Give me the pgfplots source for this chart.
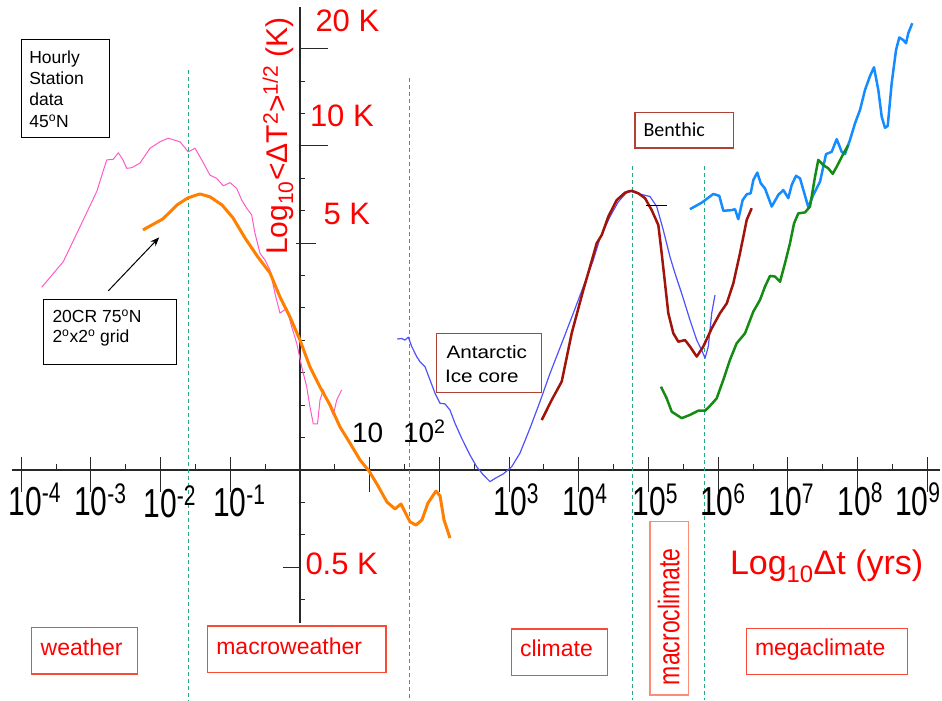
\documentclass[border=0pt]{standalone}
\usepackage{pgfplots}
\pgfplotsset{compat=1.18}
\usepackage{fontspec}
\setmainfont{Liberation Sans}
\newfontfamily\calibri{Carlito}
\usepackage{graphicx}
\usetikzlibrary{arrows.meta}
\definecolor{pinkc}{RGB}{255,90,200}
\definecolor{orangec}{RGB}{255,128,0}
\definecolor{bluec}{RGB}{80,80,255}
\definecolor{brownc}{RGB}{160,20,10}
\definecolor{skyc}{RGB}{20,140,255}
\definecolor{greenc}{RGB}{20,140,20}
\definecolor{dashc}{RGB}{40,170,120}
\definecolor{redt}{RGB}{255,0,0}
\definecolor{boxr}{RGB}{245,75,55}
\definecolor{boxl}{RGB}{250,140,120}
\definecolor{boxb}{RGB}{175,65,55}
\definecolor{axc}{RGB}{40,40,40}
\newcommand{\fs}[1]{\fontsize{#1}{#1}\selectfont}
\newcommand{\tl}[1]{\scalebox{1}[1.35]{\fs{30}10\textsuperscript{#1}}}
\begin{document}
\begin{tikzpicture}
\begin{axis}[name=ax, x=69.7pt, y=324pt, xmin=-4.304, xmax=9.211, ymin=-0.7099, ymax=1.4506, hide axis]
% axis lines and ticks
\draw[axc, line width=1.3pt] (axis cs:-4.136,0) -- (axis cs:9.182,0);
\draw[axc, line width=1.3pt] (axis cs:0,1.430) -- (axis cs:0,-0.473);
\pgfplotsinvokeforeach{-4,-3,-2,-1,1,2,3,4,5,6,7,8,9}{
  \draw[axc, line width=1pt] ([yshift=12.7pt]axis cs:#1,0) -- ([yshift=-22pt]axis cs:#1,0);}
\pgfplotsinvokeforeach{-3.5,-2.5,-1.5,-0.5,0.5,1.5,2.5,3.5,4.5,5.5,6.5,7.5,8.5}{
  \draw[axc, line width=1pt] (axis cs:#1,0) -- ([yshift=6pt]axis cs:#1,0);}
\pgfplotsinvokeforeach{-0.4,-0.2,-0.1,0.1,0.2,0.3,0.4,0.5,0.6,0.8,0.9,1.1,1.2}{
  \draw[axc, line width=1pt] (axis cs:0,#1) -- ([xshift=5pt]axis cs:0,#1);}
\draw[axc, line width=1pt] (axis cs:0,1.301) -- ([xshift=28pt]axis cs:0,1.301);
\draw[axc, line width=1pt] (axis cs:0,1.0) -- ([xshift=28pt]axis cs:0,1.0);
\draw[axc, line width=1pt] ([xshift=-4pt]axis cs:0,0.699) -- ([xshift=16pt]axis cs:0,0.699);
\draw[axc, line width=1pt] ([xshift=-17pt]axis cs:0,-0.301) -- (axis cs:0,-0.301);
% regime boundaries
\draw[dashc, line width=1pt, dash pattern=on 4pt off 3pt] (axis cs:-1.597,1.235) -- (axis cs:-1.597,-0.710);
\draw[dashc, line width=1pt, dash pattern=on 4pt off 3pt] (axis cs:1.568,1.210) -- (axis cs:1.568,-0.710);
\draw[dashc, line width=1pt, dash pattern=on 4pt off 3pt] (axis cs:4.768,0.939) -- (axis cs:4.768,-0.710);
\draw[dashc, line width=1pt, dash pattern=on 4pt off 3pt] (axis cs:5.800,0.939) -- (axis cs:5.800,-0.710);
% hourly station data
\addplot[pinkc, line width=1pt, line join=round] coordinates {
(-3.706,0.564) (-3.396,0.643) (-3.109,0.772) (-2.917,0.859) (-2.773,0.957) (-2.679,0.959) (-2.607,0.979) (-2.544,0.959) (-2.486,0.931) (-2.415,0.933) (-2.296,0.947) (-2.152,0.993) (-2.009,1.013) (-1.890,1.024) (-1.722,1.013) (-1.603,0.982) (-1.506,0.993) (-1.410,0.957) (-1.291,0.910) (-1.195,0.900) (-1.100,0.877) (-1.004,0.887) (-0.908,0.869) (-0.836,0.833) (-0.765,0.808) (-0.693,0.787) (-0.646,0.731) (-0.574,0.669) (-0.502,0.648) (-0.430,0.617) (-0.359,0.545) (-0.287,0.484) (-0.191,0.499) (-0.119,0.442) (-0.047,0.391) (0.024,0.319) (0.096,0.257) (0.143,0.195) (0.191,0.142) (0.251,0.142) (0.287,0.216) (0.334,0.247) (0.406,0.206) (0.478,0.170) (0.527,0.216) (0.598,0.247)};
% 20CR
\addplot[orangec, line width=3pt, line join=round] coordinates {
(-2.253,0.741) (-1.966,0.775) (-1.765,0.818) (-1.607,0.840) (-1.435,0.852) (-1.291,0.843) (-1.119,0.818) (-0.961,0.778) (-0.789,0.716) (-0.603,0.657) (-0.430,0.608) (-0.287,0.534) (-0.143,0.472) (0,0.401) (0.143,0.318) (0.287,0.256) (0.430,0.201) (0.574,0.133) (0.717,0.083) (0.861,0.031) (0.990,-0.003) (1.119,-0.049) (1.248,-0.099) (1.363,-0.120) (1.449,-0.105) (1.578,-0.160) (1.664,-0.170) (1.750,-0.154) (1.836,-0.102) (1.951,-0.065) (2.009,-0.080) (2.066,-0.154) (2.152,-0.210)};
% Antarctic ice core
\addplot[bluec, line width=1.2pt, line join=round] coordinates {
(1.396,0.404) (1.459,0.406) (1.506,0.401) (1.554,0.410) (1.603,0.381) (1.674,0.350) (1.722,0.334) (1.793,0.319) (1.865,0.278) (1.937,0.237) (2.009,0.206) (2.080,0.204) (2.152,0.185) (2.224,0.144) (2.320,0.098) (2.439,0.046) (2.535,0.010) (2.630,-0.015) (2.726,-0.036) (2.798,-0.026) (2.917,-0.012) (3.037,0.010) (3.156,0.052) (3.300,0.129) (3.443,0.211) (3.587,0.298) (3.755,0.391) (3.921,0.484) (4.065,0.566) (4.208,0.648) (4.304,0.715) (4.448,0.782) (4.567,0.828) (4.710,0.862) (4.831,0.854) (4.925,0.849) (5.022,0.844) (5.118,0.813) (5.212,0.741) (5.308,0.658) (5.380,0.607) (5.476,0.545) (5.595,0.463) (5.692,0.401) (5.763,0.370) (5.811,0.345) (5.858,0.381) (5.907,0.484) (5.954,0.540)};
% Benthic
\addplot[brownc, line width=2.5pt, line join=round] coordinates {
(3.468,0.154) (3.611,0.216) (3.755,0.273) (3.898,0.422) (4.065,0.556) (4.161,0.627) (4.257,0.700) (4.329,0.725) (4.423,0.782) (4.544,0.833) (4.663,0.856) (4.759,0.862) (4.854,0.854) (4.950,0.839) (5.046,0.802) (5.141,0.756) (5.189,0.669) (5.237,0.576) (5.284,0.484) (5.356,0.422) (5.428,0.396) (5.524,0.401) (5.595,0.381) (5.692,0.350) (5.786,0.381) (5.907,0.437) (6.026,0.484) (6.122,0.514) (6.217,0.576) (6.313,0.669) (6.409,0.772) (6.481,0.808)};
\addplot[black, line width=1pt] coordinates {(4.964,0.815) (5.270,0.815)};
% long series
\addplot[skyc, line width=2.5pt, line join=round] coordinates {
(5.595,0.805) (5.763,0.825) (5.930,0.852) (6.016,0.846) (6.073,0.800) (6.194,0.802) (6.241,0.805) (6.288,0.774) (6.351,0.833) (6.409,0.851) (6.466,0.854) (6.504,0.895) (6.561,0.918) (6.610,0.885) (6.671,0.869) (6.768,0.813) (6.862,0.849) (6.934,0.864) (7.006,0.839) (7.055,0.880) (7.116,0.908) (7.174,0.900) (7.293,0.811) (7.364,0.849) (7.461,0.890) (7.547,0.975) (7.628,0.982) (7.700,1.021) (7.772,0.982) (7.819,0.975) (7.891,1.019) (7.963,1.070) (8.034,1.111) (8.106,1.173) (8.178,1.216) (8.235,1.243) (8.297,1.173) (8.346,1.090) (8.393,1.056) (8.432,1.062) (8.489,1.194) (8.551,1.296) (8.598,1.335) (8.656,1.327) (8.694,1.317) (8.727,1.348) (8.785,1.379)};
\addplot[greenc, line width=2.5pt, line join=round] coordinates {
(5.179,0.257) (5.261,0.221) (5.333,0.180) (5.476,0.160) (5.595,0.170) (5.714,0.183) (5.811,0.183) (5.882,0.198) (5.978,0.221) (6.073,0.278) (6.169,0.340) (6.265,0.391) (6.385,0.422) (6.504,0.489) (6.600,0.525) (6.671,0.566) (6.743,0.599) (6.815,0.597) (6.887,0.581) (6.958,0.638) (7.030,0.700) (7.088,0.761) (7.149,0.792) (7.245,0.795) (7.317,0.813) (7.389,0.905) (7.436,0.957) (7.508,0.941) (7.580,0.931) (7.643,0.914) (7.700,0.936) (7.786,0.972) (7.866,1.003)};
\draw[-{Stealth[length=9pt,width=7pt]}, line width=1pt] (axis cs:-2.750,0.553) -- (axis cs:-2.020,0.718);
\end{axis}
\begin{scope}[shift={(ax.north west)}, x=1pt, y=-1pt, every node/.style={inner sep=0pt, outer sep=0pt}]
% Hourly box
\draw[black, line width=1pt] (21,40) rectangle (109.3,137.3);
\node[anchor=base west] at (29.3,63.3) {\fs{17.5}Hourly};
\node[anchor=base west] at (29.3,84.5) {\fs{17.5}Station};
\node[anchor=base west] at (29.3,105.5) {\fs{17.5}data};
\node[anchor=base west] at (29.3,128) {\fs{17.5}45\textsuperscript{o}N};
% 20CR box
\draw[black, line width=1pt] (43.3,299.3) rectangle (176.7,365);
\node[anchor=base west] at (52.5,322.7) {\fs{17.5}20CR 75\textsuperscript{o}N};
\node[anchor=base west] at (52.5,342.7) {\fs{17.5}2\textsuperscript{o}x2\textsuperscript{o} grid};
% y axis title and tick labels
\node[rotate=90, anchor=base, text=redt] at (287,136) {\fs{30}Log\textsubscript{10}<ΔT\textsuperscript{2}>\textsuperscript{1/2} (K)};
\node[anchor=base west, text=redt] at (315.5,31.5) {\fs{31}20 K};
\node[anchor=base west, text=redt] at (310,126.5) {\fs{31}10 K};
\node[anchor=base west, text=redt] at (323.5,225) {\fs{31}5 K};
\node[anchor=base west, text=redt] at (305.5,574) {\fs{31}0.5 K};
% x tick labels
\node[anchor=base west] at (352,443) {\fs{28}10};
\node[anchor=base west] at (403,443) {\fs{28}10\textsuperscript{2}};
\node[anchor=base west] at (8.5,515) {\tl{-4}};
\node[anchor=base west] at (74,516) {\tl{-3}};
\node[anchor=base west] at (143.5,518) {\tl{-2}};
\node[anchor=base west] at (213,517) {\tl{-1}};
\node[anchor=base west] at (493.5,516) {\tl{3}};
\node[anchor=base west] at (562,516) {\tl{4}};
\node[anchor=base west] at (632.5,516) {\tl{5}};
\node[anchor=base west] at (700,516) {\tl{6}};
\node[anchor=base west] at (768.5,516) {\tl{7}};
\node[anchor=base west] at (837.5,515) {\tl{8}};
\node[anchor=base west] at (895,515) {\tl{9}};
\node[anchor=base west, text=redt] at (730,574) {\fs{34}Log\textsubscript{10}Δt (yrs)};
% Antarctic and Benthic boxes
\draw[boxb, line width=1.2pt] (436.7,333.3) rectangle (541.7,392.3);
\node[anchor=base west] at (446.5,358.3) {\scalebox{1.15}[1]{\fs{18}Antarctic}};
\node[anchor=base west] at (445,382.7) {\scalebox{1.15}[1]{\fs{18}Ice core}};
\draw[boxb, line width=1.2pt] (635,112.7) rectangle (733.3,148);
\node[anchor=base west] at (643.5,136.7) {\calibri\fs{20}Benthic};
% regime boxes
\draw[boxr, line width=1.3pt] (31.7,627.3) rectangle (137.3,674);
\node[anchor=base west, text=redt] at (40.7,655) {\fs{23}weather};
\draw[boxr, line width=1.3pt] (207.7,626) rectangle (386,672.3);
\node[anchor=base west, text=redt] at (216.3,654.3) {\fs{23}macroweather};
\draw[boxr, line width=1.3pt] (511.3,629) rectangle (607.7,675.3);
\node[anchor=base west, text=redt] at (520,656) {\fs{23}climate};
\draw[boxr, line width=1.3pt] (746.3,628.3) rectangle (907.7,674.3);
\node[anchor=base west, text=redt] at (755,655) {\fs{23}megaclimate};
\draw[boxl, line width=1.3pt] (650,521.7) rectangle (688.3,695);
\node[rotate=90, anchor=base, text=redt] at (679.3,616.7) {\scalebox{1}[1.3]{\fs{23}macroclimate}};
\end{scope}
\pgfresetboundingbox
\path (ax.south west) rectangle (ax.north east);
\end{tikzpicture}
\end{document}
